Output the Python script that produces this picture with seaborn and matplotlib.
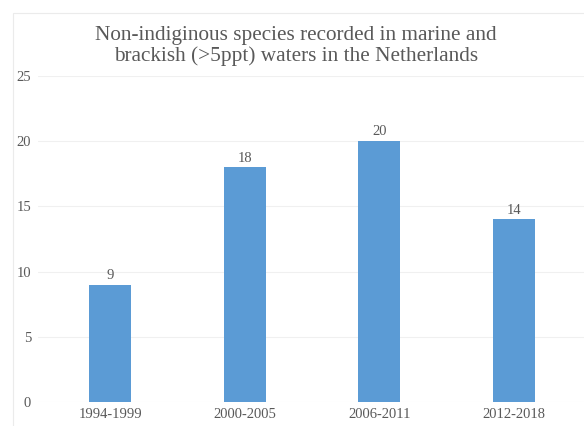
import matplotlib
matplotlib.use("Agg")
import matplotlib.pyplot as plt
import seaborn as sns
from matplotlib.patches import Rectangle

# data
periods = ["1994-1999", "2000-2005", "2006-2011", "2012-2018"]
counts = [9, 18, 20, 14]
yticks = [0, 5, 10, 15, 20, 25]

title = ("Non-indiginous species recorded in marine and\n"
         "brackish (>5ppt) waters in the Netherlands")

sns.set_style("white")
plt.rcParams['font.family'] = ['Liberation Serif', 'DejaVu Serif']

grey = "#595959"
bar_col = "#5B9BD5"

fig = plt.figure(figsize=(5.84, 4.26), dpi=100)
ax = fig.add_axes([38 / 584, 1 - 402 / 426, 546 / 584, (402 - 76) / 426])

sns.barplot(x=periods, y=counts, color=bar_col, width=0.31, ax=ax,
            saturation=1, edgecolor="none")

# value labels on top of bars
for c in ax.containers:
    ax.bar_label(c, labels=[str(v) for v in counts], padding=2,
                 fontsize=10.5, color=grey)

ax.set_ylim(0, 25)
ax.set_xlim(-0.535, 3.52)
ax.set_yticks(yticks)
ax.set_yticklabels([str(t) for t in yticks])
ax.yaxis.grid(True, color="#F0F0F0", linewidth=0.8)
ax.set_axisbelow(True)
for s in ax.spines.values():
    s.set_visible(False)
ax.tick_params(axis="both", length=0, labelsize=10.5, labelcolor=grey)
ax.tick_params(axis="y", pad=5)
ax.tick_params(axis="x", pad=4)
ax.set_xlabel("")
ax.set_ylabel("")

fig.text(0.507, 1 - 46 / 426, title, ha="center", va="center",
         fontsize=15.3, color=grey, linespacing=1.12)

# faint chart border (top/left visible)
fig.patches.append(Rectangle((13 / 584, -0.1), 1.2, 1.1 - 13 / 426,
                             transform=fig.transFigure, fill=False,
                             edgecolor="#EBEBEB", linewidth=0.8))

fig.savefig("out.png", dpi=100)
